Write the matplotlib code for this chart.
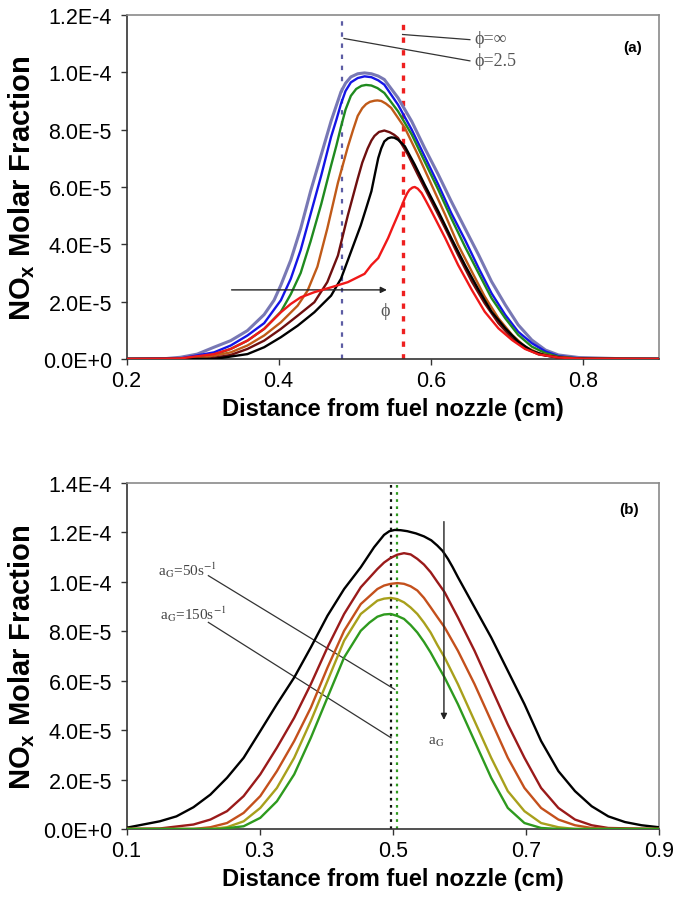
import numpy as np
import matplotlib
matplotlib.use("Agg")
import matplotlib.pyplot as plt

plt.rcParams['font.family'] = ['Liberation Sans', 'DejaVu Sans']
plt.rcParams['mathtext.fontset'] = 'custom'
plt.rcParams['mathtext.rm'] = 'Liberation Sans'
plt.rcParams['mathtext.bf'] = 'Liberation Sans:bold'
plt.rcParams['mathtext.it'] = 'Liberation Sans:italic'

SCALE = 1e-4
SERIF = ['Liberation Serif', 'DejaVu Serif']

# ---------------- panel (a): effect of phi ----------------
a_lav_x = [0.20, 0.25, 0.271, 0.293, 0.315, 0.337, 0.359, 0.381, 0.394, 0.403, 0.416, 0.429, 0.442, 0.456,
           0.469, 0.476, 0.482, 0.488, 0.495, 0.504, 0.513, 0.522, 0.531, 0.539, 0.557, 0.575, 0.592, 0.610,
           0.627, 0.645, 0.663, 0.680, 0.698, 0.715, 0.733, 0.751, 0.768, 0.795, 0.85, 0.90]
a_lav_y = [0, 0.001, 0.006, 0.017, 0.041, 0.064, 0.099, 0.155, 0.205, 0.258, 0.345, 0.455, 0.585, 0.712,
           0.830, 0.885, 0.932, 0.962, 0.984, 0.995, 0.998, 0.995, 0.987, 0.975, 0.911, 0.829, 0.736, 0.643,
           0.550, 0.456, 0.363, 0.270, 0.189, 0.119, 0.066, 0.031, 0.014, 0.005, 0.001, 0]

a_blue_x = [0.20, 0.271, 0.315, 0.337, 0.359, 0.381, 0.403, 0.416, 0.429, 0.442, 0.456, 0.469, 0.476, 0.482,
            0.488, 0.495, 0.504, 0.513, 0.522, 0.531, 0.539, 0.557, 0.575, 0.592, 0.610, 0.627, 0.645, 0.663,
            0.680, 0.698, 0.715, 0.733, 0.751, 0.768, 0.795, 0.85, 0.90]
a_blue_y = [0, 0.002, 0.023, 0.047, 0.082, 0.125, 0.205, 0.280, 0.380, 0.505, 0.640, 0.775, 0.835, 0.890,
            0.935, 0.965, 0.980, 0.986, 0.983, 0.972, 0.957, 0.887, 0.800, 0.707, 0.608, 0.509, 0.416, 0.317,
            0.229, 0.154, 0.095, 0.055, 0.026, 0.010, 0.002, 0, 0]

a_green_x = [0.20, 0.271, 0.315, 0.337, 0.359, 0.381, 0.403, 0.416, 0.429, 0.442, 0.456, 0.469, 0.476, 0.482,
             0.488, 0.495, 0.502, 0.509, 0.515, 0.522, 0.530, 0.539, 0.557, 0.575, 0.592, 0.610, 0.627, 0.645,
             0.663, 0.680, 0.698, 0.715, 0.733, 0.751, 0.768, 0.795, 0.85, 0.90]
a_green_y = [0, 0, 0.014, 0.035, 0.064, 0.105, 0.165, 0.226, 0.300, 0.410, 0.540, 0.675, 0.745, 0.810,
             0.870, 0.918, 0.942, 0.953, 0.956, 0.954, 0.945, 0.928, 0.864, 0.783, 0.689, 0.590, 0.491, 0.392,
             0.299, 0.212, 0.142, 0.084, 0.043, 0.020, 0.008, 0.002, 0, 0]

a_orange_x = [0.20, 0.293, 0.337, 0.359, 0.381, 0.403, 0.425, 0.438, 0.451, 0.464, 0.478, 0.491, 0.498, 0.504,
              0.510, 0.515, 0.520, 0.526, 0.530, 0.535, 0.541, 0.548, 0.566, 0.583, 0.601, 0.619, 0.636, 0.654,
              0.671, 0.689, 0.707, 0.724, 0.742, 0.768, 0.80, 0.90]
a_orange_y = [0, 0, 0.023, 0.047, 0.082, 0.128, 0.186, 0.238, 0.322, 0.455, 0.615, 0.740, 0.800, 0.848,
              0.875, 0.889, 0.897, 0.901, 0.902, 0.900, 0.891, 0.876, 0.806, 0.713, 0.608, 0.503, 0.398, 0.305,
              0.218, 0.142, 0.084, 0.043, 0.020, 0.005, 0.001, 0]

a_maroon_x = [0.20, 0.306, 0.337, 0.359, 0.381, 0.403, 0.425, 0.447, 0.464, 0.478, 0.491, 0.504, 0.510, 0.517,
              0.522, 0.526, 0.532, 0.539, 0.546, 0.552, 0.557, 0.570, 0.583, 0.601, 0.619, 0.636, 0.654, 0.671,
              0.689, 0.707, 0.724, 0.742, 0.768, 0.80, 0.90]
a_maroon_y = [0, 0, 0.014, 0.035, 0.064, 0.105, 0.151, 0.198, 0.268, 0.361, 0.501, 0.629, 0.685, 0.734,
              0.762, 0.778, 0.792, 0.797, 0.791, 0.782, 0.771, 0.713, 0.643, 0.550, 0.456, 0.363, 0.270, 0.194,
              0.125, 0.072, 0.037, 0.016, 0.005, 0.001, 0]

a_black_x = [0.20, 0.315, 0.359, 0.381, 0.403, 0.425, 0.447, 0.469, 0.482, 0.495, 0.508, 0.515, 0.522, 0.527,
             0.531, 0.535, 0.539, 0.544, 0.548, 0.552, 0.557, 0.561, 0.566, 0.579, 0.592, 0.610, 0.627, 0.645,
             0.663, 0.680, 0.698, 0.715, 0.733, 0.751, 0.777, 0.82, 0.90]
a_black_y = [0, 0, 0.017, 0.041, 0.076, 0.116, 0.163, 0.221, 0.280, 0.373, 0.466, 0.525, 0.585, 0.650,
             0.701, 0.735, 0.759, 0.770, 0.773, 0.772, 0.765, 0.755, 0.742, 0.678, 0.608, 0.515, 0.422, 0.328,
             0.241, 0.165, 0.107, 0.061, 0.028, 0.012, 0.002, 0, 0]

a_red_x = [0.20, 0.25, 0.271, 0.315, 0.337, 0.359, 0.381, 0.403, 0.416, 0.429, 0.447, 0.469, 0.491, 0.513,
           0.522, 0.531, 0.544, 0.550, 0.557, 0.562, 0.566, 0.569, 0.572, 0.576, 0.579, 0.583, 0.588, 0.594,
           0.601, 0.619, 0.636, 0.654, 0.671, 0.689, 0.707, 0.724, 0.742, 0.768, 0.80, 0.90]
a_red_y = [0, 0.001, 0.002, 0.017, 0.035, 0.064, 0.105, 0.163, 0.192, 0.215, 0.233, 0.250, 0.268, 0.297,
           0.328, 0.352, 0.422, 0.460, 0.503, 0.535, 0.561, 0.578, 0.590, 0.598, 0.600, 0.594, 0.579, 0.550,
           0.515, 0.422, 0.328, 0.241, 0.165, 0.107, 0.066, 0.035, 0.016, 0.005, 0.001, 0]

a_flame_phi25 = 0.483
a_flame_phiinf = 0.563

# ---------------- panel (b): effect of strain rate ----------------
b_k_x = [0.10, 0.150, 0.175, 0.2006, 0.226, 0.251, 0.276, 0.301, 0.326, 0.352, 0.377, 0.402, 0.427, 0.452,
         0.472, 0.487, 0.495, 0.503, 0.512, 0.522, 0.535, 0.547, 0.558, 0.567, 0.575, 0.583, 0.590, 0.598,
         0.623, 0.648, 0.673, 0.698, 0.723, 0.749, 0.774, 0.799, 0.824, 0.849, 0.874, 0.90]
b_k_y = [0.005, 0.031, 0.051, 0.088, 0.139, 0.207, 0.288, 0.396, 0.505, 0.613, 0.735, 0.863, 0.971, 1.059,
         1.140, 1.190, 1.205, 1.210, 1.209, 1.205, 1.196, 1.184, 1.168, 1.147, 1.125, 1.093, 1.060, 1.019,
         0.897, 0.775, 0.640, 0.505, 0.356, 0.234, 0.153, 0.092, 0.051, 0.028, 0.015, 0.007]

b_r_x = [0.10, 0.150, 0.2006, 0.226, 0.251, 0.276, 0.301, 0.326, 0.352, 0.377, 0.402, 0.427, 0.452, 0.477,
         0.487, 0.497, 0.507, 0.517, 0.527, 0.537, 0.547, 0.557, 0.567, 0.578, 0.598, 0.623, 0.648, 0.673,
         0.698, 0.723, 0.749, 0.774, 0.799, 0.824, 0.90]
b_r_y = [0, 0.002, 0.018, 0.038, 0.072, 0.133, 0.221, 0.329, 0.450, 0.586, 0.735, 0.870, 0.978, 1.052,
         1.078, 1.097, 1.110, 1.116, 1.111, 1.093, 1.070, 1.039, 1.000, 0.958, 0.856, 0.721, 0.572, 0.423,
         0.288, 0.166, 0.085, 0.038, 0.015, 0.004, 0]

b_o_x = [0.10, 0.2006, 0.226, 0.251, 0.276, 0.301, 0.326, 0.352, 0.377, 0.402, 0.427, 0.452, 0.477, 0.487,
         0.497, 0.507, 0.517, 0.527, 0.537, 0.547, 0.557, 0.567, 0.578, 0.598, 0.623, 0.648, 0.673, 0.698,
         0.723, 0.749, 0.774, 0.799, 0.824, 0.90]
b_o_y = [0, 0, 0.007, 0.024, 0.065, 0.133, 0.234, 0.356, 0.491, 0.653, 0.802, 0.910, 0.971, 0.985,
         0.992, 0.995, 0.992, 0.982, 0.965, 0.935, 0.897, 0.858, 0.816, 0.721, 0.586, 0.437, 0.288, 0.166,
         0.085, 0.038, 0.015, 0.004, 0, 0]

b_y_x = [0.10, 0.226, 0.251, 0.276, 0.301, 0.326, 0.352, 0.377, 0.402, 0.427, 0.452, 0.477, 0.487, 0.497,
         0.507, 0.517, 0.527, 0.537, 0.547, 0.557, 0.567, 0.578, 0.598, 0.623, 0.648, 0.673, 0.698, 0.723,
         0.749, 0.774, 0.90]
b_y_y = [0, 0, 0.007, 0.031, 0.085, 0.166, 0.288, 0.437, 0.599, 0.762, 0.870, 0.924, 0.932, 0.935,
         0.930, 0.917, 0.896, 0.870, 0.835, 0.795, 0.745, 0.694, 0.586, 0.437, 0.288, 0.153, 0.072, 0.024,
         0.007, 0, 0]

b_g_x = [0.10, 0.241, 0.276, 0.301, 0.326, 0.352, 0.377, 0.402, 0.427, 0.452, 0.465, 0.477, 0.487, 0.497,
         0.507, 0.517, 0.527, 0.537, 0.547, 0.557, 0.567, 0.578, 0.598, 0.623, 0.648, 0.673, 0.698, 0.723,
         0.749, 0.90]
b_g_y = [0, 0, 0.011, 0.045, 0.112, 0.221, 0.369, 0.532, 0.694, 0.802, 0.835, 0.859, 0.868, 0.870,
         0.862, 0.850, 0.825, 0.795, 0.757, 0.714, 0.665, 0.613, 0.505, 0.356, 0.207, 0.085, 0.024, 0.004,
         0, 0]

b_flame_50 = 0.497
b_flame_150 = 0.507

a_yticks = [0, 2e-5, 4e-5, 6e-5, 8e-5, 1e-4, 1.2e-4]
a_ytick_labels = ['0.0E+0', '2.0E-5', '4.0E-5', '6.0E-5', '8.0E-5', '1.0E-4', '1.2E-4']
a_xticks = [0.2, 0.4, 0.6, 0.8]
a_xtick_labels = ['0.2', '0.4', '0.6', '0.8']
b_yticks = [0, 2e-5, 4e-5, 6e-5, 8e-5, 1e-4, 1.2e-4, 1.4e-4]
b_ytick_labels = ['0.0E+0', '2.0E-5', '4.0E-5', '6.0E-5', '8.0E-5', '1.0E-4', '1.2E-4', '1.4E-4']
b_xticks = [0.1, 0.3, 0.5, 0.7, 0.9]
b_xtick_labels = ['0.1', '0.3', '0.5', '0.7', '0.9']

# ---------------- figure ----------------
fig = plt.figure(figsize=(6.73, 9.04), dpi=100)
axa = fig.add_axes([0.188, 0.6018, 0.791, 0.3805])
axb = fig.add_axes([0.188, 0.0819, 0.791, 0.3827])

LW = 1.7


def style(ax):
    for s in ['left', 'bottom']:
        ax.spines[s].set_color('#333333')
        ax.spines[s].set_linewidth(1.2)
    for s in ['top', 'right']:
        ax.spines[s].set_color('#8a8a8a')
        ax.spines[s].set_linewidth(1.2)
    ax.tick_params(direction='out', length=4.5, width=1.0, color='#333333', labelsize=15.5,
                   top=False, right=False)
    ax.tick_params(axis='y', pad=6)
    ax.tick_params(axis='x', pad=3.5)
    ax.set_xlabel('Distance from fuel nozzle (cm)', fontsize=17, fontweight='bold', labelpad=4)
    ax.set_ylabel(r'NO$_{\mathbf{x}}$ Molar Fraction', fontsize=21, fontweight='bold')
    ax.yaxis.set_label_coords(-0.168, 0.5)


sa = lambda v: np.array(v) * SCALE

# panel (a)
axa.plot(a_lav_x, sa(a_lav_y), color='#7878b4', lw=LW + 0.5, zorder=3)
axa.plot(a_blue_x, sa(a_blue_y), color='#1414e6', lw=LW, zorder=3)
axa.plot(a_green_x, sa(a_green_y), color='#1f8a1f', lw=LW, zorder=3)
axa.plot(a_orange_x, sa(a_orange_y), color='#c05a18', lw=LW, zorder=3)
axa.plot(a_maroon_x, sa(a_maroon_y), color='#6e0f0f', lw=LW, zorder=3)
axa.plot(a_black_x, sa(a_black_y), color='black', lw=LW, zorder=3)
axa.plot(a_red_x, sa(a_red_y), color='#f01818', lw=LW, zorder=4)

axa.plot([a_flame_phi25, a_flame_phi25], [0, 1.18e-4], color='#5c5ca4', lw=1.6,
         linestyle=(0, (2.0, 3.0)), zorder=2)
axa.plot([a_flame_phiinf, a_flame_phiinf], [0, 1.18e-4], color='#ee2020', lw=2.4,
         linestyle=(0, (1.6, 2.2)), zorder=2)

axa.plot([a_flame_phiinf, 0.6515], [1.132e-4, 1.114e-4], color='#333333', lw=0.9)
axa.plot([a_flame_phi25 + 0.003, 0.6515], [1.118e-4, 1.040e-4], color='#333333', lw=0.9)
axa.text(0.658, 1.118e-4, '\u03d5=\u221e', fontsize=13, color='#555555', va='center', ha='left',
         family=SERIF)
axa.text(0.658, 1.040e-4, '\u03d5=2.5', fontsize=13, color='#555555', va='center', ha='left',
         family=SERIF)
axa.annotate('', xy=(0.546, 0.241e-4), xytext=(0.3345, 0.241e-4),
             arrowprops=dict(arrowstyle='-|>', color='#222222', lw=1.0, mutation_scale=9))
axa.text(0.540, 0.169e-4, '\u03d5', fontsize=13, color='#555555', va='center', ha='center',
         family=SERIF)
axa.text(0.865, 1.089e-4, '(a)', fontsize=11, fontweight='bold', ha='center', va='center')

axa.set_xlim(0.2, 0.9)
axa.set_ylim(0, 1.2e-4)
axa.set_xticks(a_xticks)
axa.set_xticklabels(a_xtick_labels)
axa.set_yticks(a_yticks)
axa.set_yticklabels(a_ytick_labels)
style(axa)

# panel (b)
axb.plot(b_k_x, sa(b_k_y), color='black', lw=LW, zorder=3)
axb.plot(b_r_x, sa(b_r_y), color='#9a1a1a', lw=LW, zorder=3)
axb.plot(b_o_x, sa(b_o_y), color='#c4501c', lw=LW, zorder=3)
axb.plot(b_y_x, sa(b_y_y), color='#a8a01c', lw=LW, zorder=3)
axb.plot(b_g_x, sa(b_g_y), color='#2e9a1e', lw=LW, zorder=3)

axb.plot([b_flame_50, b_flame_50], [0, 1.4e-4], color='#111111', lw=1.6, linestyle=(0, (1.2, 2.0)), zorder=2)
axb.plot([b_flame_150, b_flame_150], [0, 1.4e-4], color='#2e9a1e', lw=1.6, linestyle=(0, (1.2, 2.0)), zorder=2)

axb.plot([0.223, 0.503], [1.025e-4, 0.565e-4], color='#333333', lw=0.9)
axb.plot([0.223, 0.4975], [0.836e-4, 0.369e-4], color='#333333', lw=0.9)
axb.text(0.147, 1.050e-4, r'a$_{\mathrm{G}}$=50s$^{\mathrm{-1}}$', fontsize=11, color='#444444',
         family='Liberation Serif', math_fontfamily='stix', ha='left', va='center')
axb.text(0.150, 0.872e-4, r'a$_{\mathrm{G}}$=150s$^{\mathrm{-1}}$', fontsize=11, color='#444444',
         family='Liberation Serif', math_fontfamily='stix', ha='left', va='center')
axb.annotate('', xy=(0.577, 0.43e-4), xytext=(0.577, 1.255e-4),
             arrowprops=dict(arrowstyle='-|>', color='#222222', lw=1.0, mutation_scale=9))
axb.text(0.553, 0.356e-4, r'a$_{\mathrm{G}}$', fontsize=11, color='#444444',
         family='Liberation Serif', math_fontfamily='stix', ha='left', va='center')
axb.text(0.855, 1.296e-4, '(b)', fontsize=11, fontweight='bold', ha='center', va='center')

axb.set_xlim(0.1, 0.9)
axb.set_ylim(0, 1.4e-4)
axb.set_xticks(b_xticks)
axb.set_xticklabels(b_xtick_labels)
axb.set_yticks(b_yticks)
axb.set_yticklabels(b_ytick_labels)
style(axb)

fig.savefig('out.png', dpi=100)
